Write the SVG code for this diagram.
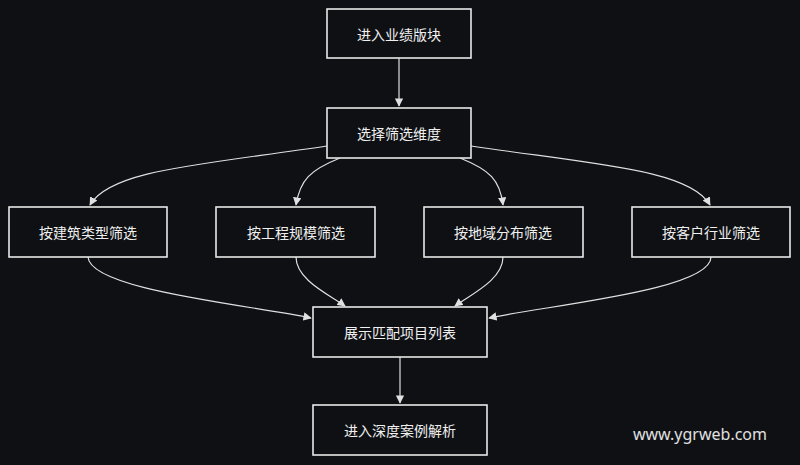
<svg xmlns="http://www.w3.org/2000/svg" width="800" height="465" viewBox="0 0 800 465">
<style>
.n rect{fill:#0f1014;stroke:#e8e8e8;stroke-width:1.6}
.n text{fill:#f0f0f0;font-family:"Noto Sans CJK SC","Noto Sans",sans-serif;font-size:14px;text-anchor:middle;dominant-baseline:central}
.e path{fill:none;stroke:#e0e0e0;stroke-width:1.2;marker-end:url(#a)}
</style>
<defs><marker id="a" viewBox="0 0 10 10" refX="9" refY="5" markerWidth="7" markerHeight="7" orient="auto"><path d="M0,0L10,5L0,10z" fill="#e0e0e0"/></marker></defs>
<rect width="800" height="465" fill="#0f1014"/>
<g class="e">
<path d="M399,58V106"/>
<path d="M327,146C200,165 110,170 90,205"/>
<path d="M340,158C310,170 300,180 296,205"/>
<path d="M460,158C490,170 500,180 503,205"/>
<path d="M471,146C600,165 690,170 710,205"/>
<path d="M88,257C90,290 250,305 311,318"/>
<path d="M296,257C296,280 330,295 345,306"/>
<path d="M503,257C503,280 470,295 455,306"/>
<path d="M711,257C711,290 550,305 489,318"/>
<path d="M400,357V403"/>
</g>
<g id="n1" class="n"><rect x="327" y="9" width="144" height="49"/><text x="399" y="34">进入业绩版块</text></g>
<g id="n2" class="n"><rect x="327" y="108" width="144" height="50"/><text x="399" y="133">选择筛选维度</text></g>
<g id="n3" class="n"><rect x="9" y="207" width="158" height="50"/><text x="88" y="232">按建筑类型筛选</text></g>
<g id="n4" class="n"><rect x="216" y="207" width="159" height="50"/><text x="296" y="232">按工程规模筛选</text></g>
<g id="n5" class="n"><rect x="424" y="207" width="159" height="50"/><text x="503" y="232">按地域分布筛选</text></g>
<g id="n6" class="n"><rect x="632" y="207" width="158" height="50"/><text x="711" y="232">按客户行业筛选</text></g>
<g id="n7" class="n"><rect x="313" y="307" width="174" height="50"/><text x="400" y="332">展示匹配项目列表</text></g>
<g id="n8" class="n"><rect x="313" y="405" width="174" height="50"/><text x="400" y="430">进入深度案例解析</text></g>
<text x="700" y="434" fill="#e0e0e0" font-family="Noto Sans,sans-serif" font-size="16" text-anchor="middle" dominant-baseline="central">www.ygrweb.com</text>
</svg>
